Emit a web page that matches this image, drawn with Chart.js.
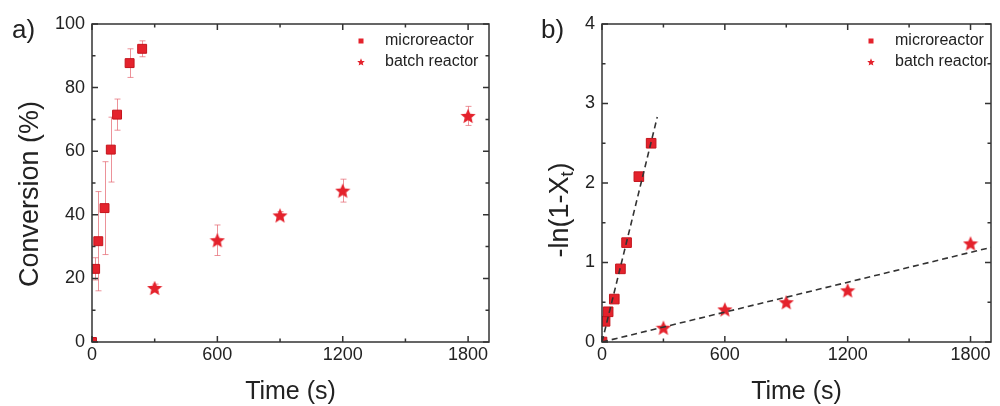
<!DOCTYPE html>
<html><head><meta charset="utf-8">
<script src="https://cdn.jsdelivr.net/npm/chart.js@4.4.1/dist/chart.umd.min.js"></script>
<style>
html,body{margin:0;padding:0;background:#fff;}
#wrap{position:relative;width:1000px;height:406px;overflow:hidden;background:#fff;}
.panel{position:absolute;top:0;width:500px;height:406px;}
</style></head><body>
<div id="wrap">
  <div class="panel" style="left:0"><canvas id="c1"></canvas></div>
  <div class="panel" style="left:500px"><canvas id="c2"></canvas></div>
</div>
<script>
// ---------- data ----------
const seriesNames = ['microreactor', 'batch reactor'];
const microTime = [0, 15, 30, 60, 90, 120, 180, 240];
const microConversion = [0, 23, 31.7, 42.1, 60.5, 71.5, 87.7, 92.2];
const microConversionErr = [0, 3.5, 15.6, 14.6, 10.2, 4.9, 4.5, 2.5];
const batchTime = [300, 600, 900, 1200, 1800];
const batchConversion = [17, 32, 39.8, 47.6, 71.1];
const batchConversionErr = [1.2, 4.8, 1.2, 3.6, 3.0];
const microLnTerm = [0, 0.26, 0.38, 0.54, 0.92, 1.25, 2.08, 2.50];
const batchLnTerm = [0.18, 0.41, 0.50, 0.65, 1.24];
const microFitTime = [0, 270];
const microFitLn = [0, 2.83];
const batchFitTime = [0, 1900];
const batchFitLn = [0, 1.19];
const timeTicks = [0, 600, 1200, 1800];
const timeMinorTicks = [300, 900, 1500];
const conversionTicks = [0, 20, 40, 60, 80, 100];
const conversionMinorTicks = [10, 30, 50, 70, 90];
const lnTicks = [0, 1, 2, 3, 4];
const lnMinorTicks = [0.5, 1.5, 2.5, 3.5];

// ---------- styling ----------
const RED = '#e4222c';
const RED_EDGE = '#c4141c';
const INK = '#222';
const FRAME = '#333';
const REG = "'Liberation Sans',Arial,sans-serif";

function starCanvas(size) {
  const c = document.createElement('canvas');
  c.width = c.height = size;
  const g = c.getContext('2d');
  const R = size / 2, r = R * 0.45, cx = R, cy = R + R * 0.09;
  g.beginPath();
  for (let i = 0; i < 10; i++) {
    const a = -Math.PI / 2 + i * Math.PI / 5;
    const rad = i % 2 ? r : R;
    g.lineTo(cx + rad * Math.cos(a), cy + rad * Math.sin(a));
  }
  g.closePath();
  g.fillStyle = RED;
  g.fill();
  return c;
}
const bigStar = starCanvas(16);
const smallStar = starCanvas(8);

const pts = (xs, ys) => xs.map((x, i) => ({x: x, y: ys[i]}));

// ---------- decoration plugin: frame, inward ticks, error bars, legend, titles ----------
const decor = {
  id: 'decor',
  beforeDatasetsDraw(chart, args, o) {
    const {ctx, scales: {x, y}} = chart;
    if (!o.errors) return;
    ctx.save();
    ctx.strokeStyle = 'rgba(228,100,110,0.7)';
    ctx.lineWidth = 1;
    o.errors.forEach(e => {
      e.xs.forEach((t, i) => {
        const err = e.err[i];
        if (!err) return;
        const px = Math.round(x.getPixelForValue(t)) + 0.5;
        const y1 = y.getPixelForValue(e.ys[i] + err);
        const y2 = y.getPixelForValue(e.ys[i] - err);
        ctx.beginPath();
        ctx.moveTo(px, y1); ctx.lineTo(px, y2);
        ctx.moveTo(px - 3, y1); ctx.lineTo(px + 3, y1);
        ctx.moveTo(px - 3, y2); ctx.lineTo(px + 3, y2);
        ctx.stroke();
      });
    });
    ctx.restore();
  },
  afterDraw(chart, args, o) {
    const {ctx, chartArea: a, scales: {x, y}} = chart;
    ctx.save();
    ctx.strokeStyle = FRAME;
    ctx.lineWidth = 1.5;
    ctx.strokeRect(a.left, a.top, a.right - a.left, a.bottom - a.top);
    const xt = (vals, len) => vals.forEach(v => {
      const p = x.getPixelForValue(v);
      ctx.beginPath();
      ctx.moveTo(p, a.bottom); ctx.lineTo(p, a.bottom - len);
      ctx.moveTo(p, a.top); ctx.lineTo(p, a.top + len);
      ctx.stroke();
    });
    const yt = (vals, len) => vals.forEach(v => {
      const p = y.getPixelForValue(v);
      ctx.beginPath();
      ctx.moveTo(a.left, p); ctx.lineTo(a.left + len, p);
      ctx.moveTo(a.right, p); ctx.lineTo(a.right - len, p);
      ctx.stroke();
    });
    xt(o.xMajor, 6); xt(o.xMinor, 3.5);
    yt(o.yMajor, 6); yt(o.yMinor, 3.5);

    // legend
    ctx.textBaseline = 'middle';
    ctx.textAlign = 'left';
    ctx.font = '16px ' + REG;
    o.legend.rows.forEach((row, i) => {
      const yy = o.legend.y[i];
      if (row.symbol === 'square') {
        ctx.fillStyle = RED;
        ctx.fillRect(o.legend.symbolX - 2.5, yy - 2.5, 5, 5);
      } else {
        ctx.drawImage(smallStar, o.legend.symbolX - 4, yy - 4);
      }
      ctx.fillStyle = INK;
      ctx.fillText(row.label, o.legend.textX, yy);
    });

    // panel label
    ctx.textBaseline = 'alphabetic';
    ctx.font = '26px ' + REG;
    ctx.fillStyle = INK;
    ctx.fillText(o.panel.text, o.panel.x, o.panel.y);

    // y-axis title (rotated, optional subscript)
    const t = o.yTitle;
    ctx.translate(t.x, t.y);
    ctx.rotate(-Math.PI / 2);
    ctx.textBaseline = 'middle';
    const fMain = '27px ' + REG, fSub = '18px ' + REG;
    ctx.font = fMain; const w1 = ctx.measureText(t.main).width;
    ctx.font = fSub; const w2 = t.sub ? ctx.measureText(t.sub).width : 0;
    ctx.font = fMain; const w3 = t.after ? ctx.measureText(t.after).width : 0;
    let cx = -(w1 + w2 + w3) / 2;
    ctx.font = fMain; ctx.fillText(t.main, cx, 0); cx += w1;
    if (t.sub) { ctx.font = fSub; ctx.fillText(t.sub, cx, 7); cx += w2; }
    if (t.after) { ctx.font = fMain; ctx.fillText(t.after, cx, 0); }
    ctx.restore();
  }
};

function makeOptions(cfg) {
  return {
    responsive: true,
    maintainAspectRatio: false,
    animation: false,
    events: [],
    layout: {padding: {left: 0, right: cfg.padRight, top: 24, bottom: 0}},
    plugins: {
      legend: {display: false},
      tooltip: {enabled: false},
      decor: cfg.decor
    },
    scales: {
      x: {
        type: 'linear', min: 0, max: 1900,
        grid: {display: false, drawTicks: false}, border: {display: false},
        afterFit(s) { s.height = 64; },
        afterBuildTicks(s) { s.ticks = timeTicks.map(v => ({value: v})); },
        ticks: {font: {family: REG, size: 18, lineHeight: 1}, color: INK, padding: 4,
                maxRotation: 0, autoSkip: false, callback: v => String(v)},
        title: {display: true, text: 'Time (s)', color: INK,
                font: {family: REG, size: 25, lineHeight: 1}, padding: {top: 0, bottom: 1}}
      },
      y: {
        type: 'linear', min: cfg.yMin, max: cfg.yMax,
        grid: {display: false, drawTicks: false}, border: {display: false},
        afterFit(s) { s.width = cfg.yWidth; },
        afterBuildTicks(s) { s.ticks = cfg.yTicks.map(v => ({value: v})); },
        ticks: {font: {family: REG, size: 18, lineHeight: 1}, color: INK, padding: 7,
                autoSkip: false, callback: v => String(v)}
      }
    }
  };
}

// ---------- panel a ----------
new Chart(document.getElementById('c1'), {
  type: 'scatter',
  data: {
    datasets: [
      {label: seriesNames[0], data: pts(microTime, microConversion), pointStyle: 'rect',
       pointRadius: 6.3, backgroundColor: RED, borderColor: RED_EDGE, borderWidth: 1, clip: 0},
      {label: seriesNames[1], data: pts(batchTime, batchConversion), pointStyle: bigStar,
       pointRadius: 8, backgroundColor: RED, borderColor: RED, clip: 0}
    ]
  },
  options: makeOptions({
    padRight: 11, yWidth: 92, yMin: 0, yMax: 100, yTicks: conversionTicks,
    decor: {
      xMajor: timeTicks, xMinor: timeMinorTicks, yMajor: conversionTicks, yMinor: conversionMinorTicks,
      errors: [
        {xs: microTime, ys: microConversion, err: microConversionErr},
        {xs: batchTime, ys: batchConversion, err: batchConversionErr}
      ],
      legend: {rows: [{label: seriesNames[0], symbol: 'square'}, {label: seriesNames[1], symbol: 'star'}],
               symbolX: 361, textX: 385, y: [41, 62]},
      panel: {text: 'a)', x: 12, y: 38},
      yTitle: {main: 'Conversion (%)', x: 31, y: 194}
    }
  }),
  plugins: [decor]
});

// ---------- panel b ----------
new Chart(document.getElementById('c2'), {
  type: 'scatter',
  data: {
    datasets: [
      {label: 'microreactor fit', data: pts(microFitTime, microFitLn), showLine: true,
       borderColor: FRAME, borderWidth: 1.6, borderDash: [6, 4], pointRadius: 0, fill: false, clip: 0},
      {label: 'batch reactor fit', data: pts(batchFitTime, batchFitLn), showLine: true,
       borderColor: FRAME, borderWidth: 1.6, borderDash: [6, 4], pointRadius: 0, fill: false, clip: 0},
      {label: seriesNames[0], data: pts(microTime, microLnTerm), pointStyle: 'rect',
       pointRadius: 6.8, backgroundColor: RED, borderColor: RED_EDGE, borderWidth: 1, clip: 0},
      {label: seriesNames[1], data: pts(batchTime, batchLnTerm), pointStyle: bigStar,
       pointRadius: 8, backgroundColor: RED, borderColor: RED, clip: 0}
    ]
  },
  options: makeOptions({
    padRight: 2, yWidth: 102, yMin: 0, yMax: 4, yTicks: lnTicks,
    decor: {
      xMajor: timeTicks, xMinor: timeMinorTicks, yMajor: lnTicks, yMinor: lnMinorTicks,
      legend: {rows: [{label: seriesNames[0], symbol: 'square'}, {label: seriesNames[1], symbol: 'star'}],
               symbolX: 371, textX: 395, y: [41, 62]},
      panel: {text: 'b)', x: 41, y: 38},
      yTitle: {main: '-ln(1-X', sub: 't', after: ')', x: 61, y: 210}
    }
  }),
  plugins: [decor]
});
</script>
</body></html>
